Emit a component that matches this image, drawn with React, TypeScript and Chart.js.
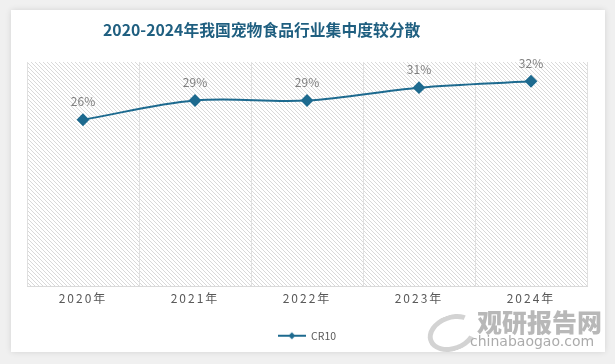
import React, { useEffect, useRef } from "react";
import { Chart, registerables } from "chart.js";

Chart.register(...registerables);

const categories = ["2020年", "2021年", "2022年", "2023年", "2024年"];
const cr10Values = [26, 29, 29, 31, 32];
const seriesName = "CR10";
const titleText = "2020-2024年我国宠物食品行业集中度较分散";

const LINE_COLOR = "#1d6a8f";
const FONT = "'Noto Sans CJK SC', 'Noto Sans', sans-serif";

function makeHatch(ctx: CanvasRenderingContext2D) {
  const c = document.createElement("canvas");
  c.width = 4;
  c.height = 4;
  const g = c.getContext("2d")!;
  g.fillStyle = "#ffffff";
  g.fillRect(0, 0, 4, 4);
  g.strokeStyle = "#d9d9d9";
  g.lineWidth = 1;
  g.beginPath();
  g.moveTo(-1, -1);
  g.lineTo(5, 5);
  g.moveTo(-1, 3);
  g.lineTo(1, 5);
  g.moveTo(3, -1);
  g.lineTo(5, 1);
  g.stroke();
  return ctx.createPattern(c, "repeat");
}

function makeLegendIcon() {
  const c = document.createElement("canvas");
  c.width = 28;
  c.height = 10;
  const g = c.getContext("2d")!;
  g.strokeStyle = LINE_COLOR;
  g.lineWidth = 2;
  g.beginPath();
  g.moveTo(0, 5);
  g.lineTo(28, 5);
  g.stroke();
  g.fillStyle = LINE_COLOR;
  g.beginPath();
  g.moveTo(14, 1.5);
  g.lineTo(17.5, 5);
  g.lineTo(14, 8.5);
  g.lineTo(10.5, 5);
  g.closePath();
  g.fill();
  return c;
}

const bgPlugin = {
  id: "hatchBg",
  beforeDraw(chart: any) {
    const { ctx, chartArea } = chart;
    if (!chartArea) return;
    ctx.save();
    ctx.fillStyle = makeHatch(ctx) as any;
    ctx.fillRect(chartArea.left, chartArea.top, chartArea.right - chartArea.left, chartArea.bottom - chartArea.top);
    ctx.restore();
    const s = chart.scales.x;
    if (s && !s.__patched) {
      const orig = s.drawLabels.bind(s);
      s.drawLabels = (ca: any) => {
        ctx.save();
        (ctx as any).letterSpacing = "2px";
        orig(ca);
        ctx.restore();
      };
      s.__patched = true;
    }
  },
};

const labelPlugin = {
  id: "pointLabels",
  afterDatasetsDraw(chart: any) {
    const { ctx } = chart;
    const meta = chart.getDatasetMeta(0);
    const data = chart.data.datasets[0].data as number[];
    ctx.save();
    ctx.font = `12px ${FONT}`;
    ctx.fillStyle = "#7f7f7f";
    ctx.textAlign = "center";
    ctx.textBaseline = "middle";
    meta.data.forEach((pt: any, i: number) => {
      ctx.fillText(`${data[i]}%`, pt.x, pt.y - 18);
    });
    ctx.restore();
  },
};

export default function App() {
  const ref = useRef<HTMLCanvasElement>(null);
  useEffect(() => {
    if (!ref.current) return;
    const icon = makeLegendIcon();
    const chart = new Chart(ref.current, {
      type: "line",
      data: {
        labels: categories,
        datasets: [
          {
            label: seriesName,
            data: cr10Values,
            borderColor: LINE_COLOR,
            backgroundColor: LINE_COLOR,
            borderWidth: 2,
            tension: 0.35,
            pointStyle: "rectRot",
            pointRadius: 5,
            pointBackgroundColor: LINE_COLOR,
            pointBorderColor: LINE_COLOR,
            fill: false,
          },
        ],
      },
      options: {
        animation: false,
        responsive: false,
        maintainAspectRatio: false,
        layout: { padding: { top: 52, left: 16, right: 18, bottom: 1 } },
        plugins: {
          title: { display: false },
          tooltip: { enabled: false },
          legend: {
            position: "bottom",
            labels: {
              usePointStyle: true,
              pointStyleWidth: 28,
              boxHeight: 10,
              padding: 10,
              color: "#595959",
              font: { size: 10.5, family: FONT },
              generateLabels: (ch: any) =>
                ch.data.datasets.map((d: any, i: number) => ({
                  text: d.label,
                  pointStyle: icon,
                  fontColor: "#595959",
                  hidden: false,
                  datasetIndex: i,
                  lineWidth: 0,
                })),
            },
          },
        },
        scales: {
          x: {
            offset: true,
            grid: { display: true, color: "#e0e0e0", offset: true, drawTicks: false },
            border: { display: true, color: "#d9d9d9" },
            ticks: { color: "#595959", font: { size: 12, family: FONT }, padding: 5 },
            afterFit: (s: any) => {
              s.height = 34;
            },
          },
          y: {
            display: false,
            min: 0,
            max: 35,
          },
        },
      },
      plugins: [bgPlugin, labelPlugin],
    });
    return () => chart.destroy();
  }, []);

  return (
    <div style={{ position: "fixed", left: 0, top: 0, width: 615, height: 364, background: "#f0f0f0", overflow: "hidden" }}>
      <div
        style={{
          position: "absolute",
          left: 11,
          top: 10,
          width: 594,
          height: 342,
          background: "#ffffff",
          boxShadow: "0 0 6px rgba(0,0,0,0.12)",
        }}
      >
        <canvas ref={ref} width={594} height={342} style={{ display: "block" }} />
        <div
          style={{
            position: "absolute",
            left: 92,
            top: 8,
            fontFamily: FONT,
            fontWeight: 700,
            fontSize: 15.8,
            color: "#1f5f80",
            whiteSpace: "nowrap",
          }}
        >
          {titleText}
        </div>
        <div
          style={{
            position: "absolute",
            left: 466,
            top: 298,
            fontFamily: FONT,
            fontWeight: 900,
            fontSize: 25,
            color: "rgba(160,160,160,0.75)",
            whiteSpace: "nowrap",
            lineHeight: "26px",
          }}
        >
          观研报告网
        </div>
        <div
          style={{
            position: "absolute",
            left: 459,
            top: 323,
            fontFamily: "'DejaVu Sans', sans-serif",
            fontSize: 14,
            color: "rgba(150,150,150,0.8)",
            whiteSpace: "nowrap",
            lineHeight: "16px",
          }}
        >
          chinabaogao.com
        </div>
        <div
          style={{
            position: "absolute",
            left: 416,
            top: 305,
            width: 40,
            height: 26,
            borderRadius: "50%",
            border: "5px solid rgba(175,175,175,0.55)",
            borderRightColor: "transparent",
            transform: "rotate(-20deg)",
          }}
        />
      </div>
    </div>
  );
}
